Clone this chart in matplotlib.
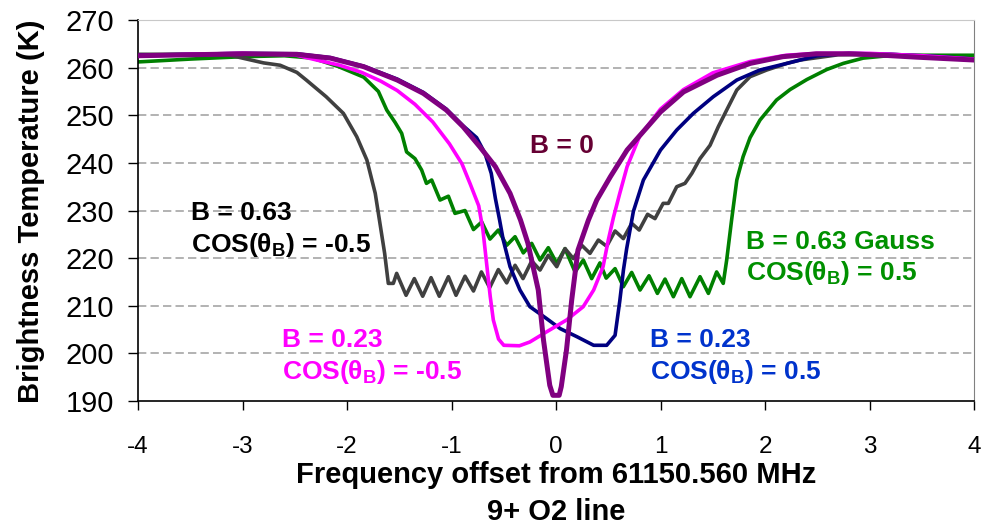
import matplotlib
matplotlib.use("Agg")
import matplotlib.pyplot as plt

plt.rcParams["font.family"] = ["Liberation Sans", "DejaVu Sans"]
plt.rcParams["mathtext.fontset"] = "custom"
plt.rcParams["mathtext.bf"] = "Liberation Sans:bold"
plt.rcParams["mathtext.rm"] = "Liberation Sans"

# B = 0
x_b0 = [-4.0, -3.5, -3.0, -2.48, -2.16, -1.84, -1.52, -1.27, -1.05, -0.89,
        -0.73, -0.58, -0.44, -0.34, -0.27, -0.17, -0.12, -0.06, -0.03, 0.03,
        0.05, 0.10, 0.15, 0.21, 0.31, 0.39, 0.52, 0.68, 0.82, 1.0,
        1.22, 1.54, 1.86, 2.17, 2.49, 2.81, 3.13, 3.45, 4.0]
y_b0 = [262.5, 262.7, 262.9, 262.8, 262.0, 260.2, 257.4, 254.6, 251.1, 247.6,
        243.4, 239.2, 233.6, 228.0, 223.2, 213.3, 202.8, 193.3, 191.2, 191.2,
        193.0, 200.7, 211.2, 221.7, 228.0, 232.2, 237.1, 242.7, 246.2, 250.7,
        254.9, 258.4, 260.9, 262.3, 262.9, 262.9, 262.6, 262.2, 261.6]

# B = 0.23, cos = -0.5
x_m = [-4.0, -3.5, -3.0, -2.5, -2.29, -2.07, -1.86, -1.68, -1.52, -1.35,
       -1.18, -1.02, -0.90, -0.82, -0.74, -0.70, -0.665, -0.63, -0.60, -0.55,
       -0.50, -0.35, -0.25, -0.10, 0.10, 0.26, 0.36, 0.45, 0.50, 0.55,
       0.61, 0.68, 0.80, 1.0, 1.22, 1.5, 1.86, 2.2, 2.5, 3.0, 3.5, 4.0]
y_m = [262.4, 262.8, 263.0, 262.7, 261.6, 260.5, 259.0, 257.2, 255.2, 252.3,
       248.6, 244.0, 239.8, 235.5, 231.0, 226.0, 219.0, 212.0, 207.0, 203.0,
       201.7, 201.6, 202.4, 204.4, 207.0, 209.8, 213.3, 218.2, 223.8, 228.6,
       233.6, 239.2, 245.6, 251.3, 255.4, 258.9, 261.3, 262.6, 263.0, 263.0,
       262.5, 261.8]

# B = 0.23, cos = 0.5
x_bl = [-4.0, -3.5, -3.0, -2.48, -2.16, -1.84, -1.52, -1.27, -1.05, -0.89,
        -0.76, -0.68, -0.62, -0.58, -0.54, -0.505, -0.44, -0.345, -0.25, -0.09,
        0.04, 0.20, 0.36, 0.485, 0.565, 0.61, 0.645, 0.676, 0.74, 0.836,
        1.0, 1.155, 1.314, 1.505, 1.73, 1.95, 2.21, 2.5, 2.8, 3.2, 3.6, 4.0]
y_bl = [262.6, 262.8, 263.0, 262.9, 262.1, 260.3, 257.6, 254.8, 251.3, 247.8,
        245.3, 242.0, 237.8, 232.5, 228.0, 223.8, 218.2, 213.3, 209.8, 207.3,
        205.2, 203.5, 201.7, 201.7, 203.8, 211.0, 217.5, 222.0, 229.8, 236.4,
        242.7, 246.9, 250.4, 253.9, 257.4, 259.5, 260.9, 262.5, 263.0, 262.8,
        262.4, 261.8]

# B = 0.63, cos = -0.5
x_g = [-4.0, -3.5, -3.12, -2.8, -2.64, -2.48, -2.39, -2.2, -2.035, -1.907,
       -1.81, -1.73, -1.68, -1.64, -1.605, -1.557, -1.525, -1.435, -1.356, -1.276,
       -1.196, -1.117, -1.03, -0.957, -0.871, -0.79, -0.714, -0.635, -0.552, -0.472,
       -0.392, -0.316, -0.233, -0.153, -0.074, 0.007, 0.086, 0.166, 0.246, 0.325,
       0.405, 0.485, 0.565, 0.644, 0.724, 0.796, 0.876, 0.947, 1.025, 1.075,
       1.155, 1.234, 1.30, 1.378, 1.474, 1.553, 1.633, 1.73, 1.857, 2.016,
       2.21, 2.335, 2.7, 3.2, 3.6, 4.0]
y_g = [262.8, 262.8, 262.6, 261.0, 260.5, 259.0, 257.4, 253.9, 250.4, 245.5,
       240.6, 233.6, 226.6, 221.0, 214.7, 214.7, 216.8, 212.2, 215.7, 212.0,
       215.9, 212.0, 216.1, 212.2, 216.2, 213.1, 217.1, 213.8, 217.6, 214.8,
       218.5, 215.7, 219.4, 217.5, 220.6, 218.2, 222.0, 219.9, 222.7, 221.0,
       223.8, 222.5, 225.7, 224.1, 227.3, 225.9, 229.2, 228.3, 231.5, 231.5,
       235.0, 235.7, 237.8, 240.9, 243.7, 247.6, 251.1, 255.3, 258.1, 259.5,
       260.9, 261.6, 262.7, 262.8, 262.3, 261.8]

# B = 0.63 Gauss, cos = 0.5
x_gr = [-4.0, -3.5, -3.0, -2.6, -2.33, -2.08, -1.84, -1.70, -1.62, -1.54,
        -1.477, -1.43, -1.35, -1.286, -1.24, -1.19, -1.11, -1.03, -0.967, -0.871,
        -0.79, -0.711, -0.632, -0.552, -0.472, -0.392, -0.313, -0.233, -0.153, -0.074,
        0.007, 0.086, 0.182, 0.261, 0.341, 0.42, 0.48, 0.565, 0.644, 0.724,
        0.804, 0.89, 0.97, 1.043, 1.123, 1.203, 1.282, 1.378, 1.458, 1.537,
        1.60, 1.633, 1.68, 1.73, 1.79, 1.857, 1.952, 2.11, 2.24, 2.40,
        2.59, 2.75, 2.94, 3.13, 3.4, 3.7, 4.0]
y_gr = [261.2, 261.8, 262.3, 262.5, 262.0, 260.2, 258.0, 255.0, 251.1, 248.5,
        246.2, 242.3, 240.9, 238.5, 235.7, 236.4, 232.2, 233.0, 229.4, 230.0,
        226.0, 227.6, 224.0, 225.9, 222.7, 224.5, 221.1, 223.1, 219.6, 222.2,
        218.9, 222.0, 217.1, 219.6, 215.7, 219.0, 215.8, 217.8, 214.0, 217.0,
        213.3, 216.3, 212.6, 215.6, 211.9, 215.7, 211.9, 216.1, 212.6, 217.1,
        214.7, 219.6, 228.0, 236.4, 241.3, 245.3, 249.0, 253.2, 255.4, 257.5,
        259.6, 260.9, 262.0, 262.4, 262.6, 262.6, 262.6]

x_ticks = [-4, -3, -2, -1, 0, 1, 2, 3, 4]
y_ticks = [190, 200, 210, 220, 230, 240, 250, 260, 270]

fig = plt.figure(figsize=(9.93, 5.28), dpi=100)
ax = fig.add_axes([0.139, 0.2405, 0.8419, 0.7216])

for yv in y_ticks[1:-1]:
    ax.axhline(yv, color="#A6A6A6", lw=1.2, ls=(0, (5, 2.5)), zorder=1)

ax.plot(x_gr, y_gr, color="#008000", lw=2.6, zorder=2)
ax.plot(x_g, y_g, color="#404040", lw=2.6, zorder=3)
ax.plot(x_bl, y_bl, color="#000080", lw=2.6, zorder=4)
ax.plot(x_m, y_m, color="#FF00FF", lw=2.6, zorder=5)
ax.plot(x_b0, y_b0, color="#800080", lw=3.6, zorder=6)

ax.set_xlim(-4, 4)
ax.set_ylim(190, 270)
ax.set_xticks(x_ticks)
ax.set_yticks(y_ticks)
ax.set_xticklabels([str(v) for v in x_ticks])
ax.tick_params(axis="x", direction="out", length=6.5, width=1, labelsize=17.5, pad=19)
ax.tick_params(axis="y", direction="out", length=7, width=1, labelsize=21, pad=10.5)

ax.spines["left"].set_linewidth(1.2)
ax.spines["bottom"].set_linewidth(1.2)
ax.spines["top"].set_color("#C8C8C8")
ax.spines["right"].set_color("#808080")

bold = dict(fontweight="bold", fontsize=19, ha="left", va="baseline")
ax.text(-0.249, 242.0, "B = 0", color="#660033", **bold)
ax.text(-3.49, 228.0, "B = 0.63", color="black", **bold)
ax.text(-3.49, 221.3, r"COS(θ$_\mathbf{B}$) = -0.5", color="black", **bold)
ax.text(-2.625, 201.4, "B = 0.23", color="#FF00FF", **bold)
ax.text(-2.625, 194.7, r"COS(θ$_\mathbf{B}$) = -0.5", color="#FF00FF", **bold)
ax.text(0.9, 201.4, "B = 0.23", color="#0033CC", **bold)
ax.text(0.9, 194.7, r"COS(θ$_\mathbf{B}$) = 0.5", color="#0033CC", **bold)
ax.text(1.818, 222.0, "B = 0.63 Gauss", color="#009000", **bold)
ax.text(1.818, 215.4, r"COS(θ$_\mathbf{B}$) = 0.5", color="#009000", **bold)

fig.text(0.56, 0.1004, "Frequency offset from 61150.560 MHz", fontsize=21,
         fontweight="bold", ha="center", va="center")
fig.text(0.56, 0.0303, "9+ O2 line", fontsize=21, fontweight="bold",
         ha="center", va="center")
fig.text(0.031, 0.600, "Brightness Temperature (K)", fontsize=21,
         fontweight="bold", rotation=90, ha="center", va="center")

fig.savefig("out.png", dpi=100)
